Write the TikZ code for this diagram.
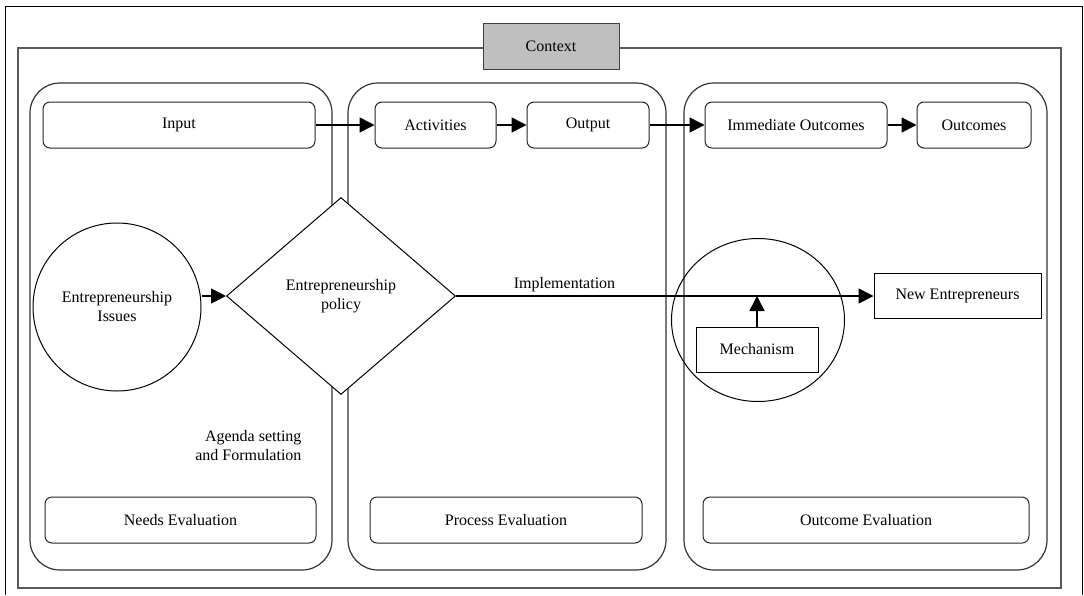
\documentclass[tikz,border=0pt]{standalone}
\usepackage{fontspec}
\setmainfont{Liberation Serif}
\usetikzlibrary{arrows.meta}
\usetikzlibrary{shapes.geometric}

\begin{document}
\begin{tikzpicture}[x=1pt,y=-1pt,
		font=\fontsize{16}{19}\selectfont,
		lane/.style={draw=black!80,line width=1.2pt,rounded corners=30pt},
		stage/.style={draw=black!85,line width=1pt,rounded corners=7pt,minimum height=46pt,inner sep=0pt},
		plain/.style={draw=black,line width=1pt,minimum height=45pt,inner sep=0pt,fill=white},
		flow/.style={-{Triangle[length=15pt,width=15pt]},line width=1.6pt}]
	\useasboundingbox (0,0) rectangle (1084,595);
	\fill[white] (0,0) rectangle (1084,595);
	
	% frames
	
	\draw[line width=1pt] (5,595) -- (5,6) -- (1082,6) -- (1082,595);
	\draw[draw=black!65,line width=1.2pt] (18,48) rectangle (1061,588);
	\node[draw=black!75,line width=1pt,fill=black!25,minimum width=136pt,minimum height=46pt] (ctx) at (551,46) {Context};
	
	\draw[lane] (30,83) rectangle (332,570);
	\draw[lane] (348,83) rectangle (666,570);
	\draw[lane] (684,83) rectangle (1047,570);
	
	% logic model
	
	\node[stage,minimum width=272pt] (inp) at (179,125) {Input};
	\node[stage,minimum width=121pt] (act) at (435.5,125) {Activities};
	\node[stage,minimum width=122pt] (out) at (588,125) {Output};
	\node[stage,minimum width=182pt] (imm) at (796,125) {Immediate Outcomes};
	\node[stage,minimum width=114pt] (outc) at (974,125) {Outcomes};
	\foreach \a/\b in {inp/act,act/out,out/imm,imm/outc} {
		\draw[flow] (\a) -- (\b);
	}
	
	% evaluations
	
	\foreach \n/\x/\w/\t in {needs/180.5/271/Needs Evaluation,proc/506/272/Process Evaluation,outev/866/326/Outcome Evaluation} {
		\node[stage,minimum width=\w pt] (\n) at (\x,520) {\t};
	}
	
	% policy
	
	\node[circle,draw=black,line width=1pt,minimum size=168pt,inner sep=0pt,align=center] (iss) at (117,307) {Entrepreneurship\\Issues};
	\node[diamond,draw=black,line width=1pt,fill=white,minimum width=229pt,minimum height=197pt,inner sep=0pt,align=center] (pol) at (341,296) {Entrepreneurship\\policy};
	\draw[flow] (iss.east |- pol.west) -- (pol.west);
	\node[align=right,anchor=east] (agenda) at (305,446) {Agenda setting\\and Formulation};
	
	\node[ellipse,draw=black,line width=1pt,minimum width=173pt,minimum height=163pt] (mcirc) at (758,320) {};
	\node[plain,minimum width=122pt] (mech) at (757,349.5) {Mechanism};
	\node[plain,minimum width=167pt] (newent) at (957.5,296) {New Entrepreneurs};
	\draw[flow] (pol.east) -- node[above,pos=0.26] {Implementation} (newent.west);
	\draw[flow] (mech.north) -- (mech.north |- newent.west);
\end{tikzpicture}
\end{document}
